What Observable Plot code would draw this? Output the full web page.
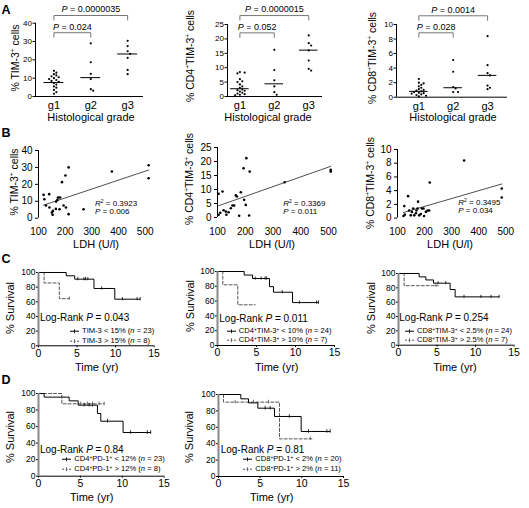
<!DOCTYPE html>
<html><head><meta charset="utf-8">
<script src="https://cdn.jsdelivr.net/npm/d3@7"></script>
<script src="https://cdn.jsdelivr.net/npm/@observablehq/plot@0.6"></script>
<style>
body{margin:0;background:#fff}
#fig{position:relative;width:529px;height:508px;overflow:hidden;font-family:"Liberation Sans",Arial,Helvetica,sans-serif;color:#000;background:#fff}
.lbl{position:absolute;white-space:nowrap;line-height:1}
.lbl sup{font-size:62%;line-height:0;vertical-align:0.55em}
.letter{font-weight:bold;font-size:12.5px}
</style></head>
<body><div id="fig"></div>
<script>
// ---------------- DATA ----------------
const grades = ["g1", "g2", "g3"];
// Panel A: % positive cells by histological grade
const aTim3 = [
  [14, 13, 12.2, 11.5, 11, 10.5, 10, 9.5, 9, 8.5, 8, 7.3, 6.5, 5.5, 4.8, 3.6, 2.4, 1.5],
  [29, 18.7, 12.4, 9.5, 4, 3.2],
  [30.4, 27.5, 24.7, 23.3, 21.1, 14.5, 12.2]
];
const aTim3Median = [7.6, 10.3, 23.2];
const aCd4 = [
  [8.5, 8.3, 8.0, 6.0, 5.3, 5.0, 4.2, 3.5, 3.0, 2.4, 2.2, 2.0, 1.7, 1.3, 1.0, 0.8, 0.6, 0.4],
  [16.2, 9.2, 5.6, 3.5, 1.5, 0.6],
  [21.2, 18.5, 17.7, 16, 12.5, 9.6, 9.0]
];
const aCd4Median = [2.7, 4.4, 16.1];
const aCd8 = [
  [2.5, 2.0, 1.9, 1.7, 1.5, 1.3, 1.1, 1.0, 0.9, 0.8, 0.7, 0.6, 0.55, 0.5, 0.4, 0.3, 0.2, 0.1],
  [5.1, 3.5, 1.4, 1.2, 0.7, 0.7],
  [8.4, 4.4, 3.3, 3.0, 1.6, 1.3, 1.1]
];
const aCd8Median = [0.8, 1.3, 3.0];
const aTim3Brackets = [{a: 1, b: 2, y: 34.8, p: "0.024"}, {a: 1, b: 3, y: 44.2, p: "0.0000035"}];
const aCd4Brackets = [{a: 1, b: 2, y: 22.1, p: "0.052"}, {a: 1, b: 3, y: 28.1, p: "0.0000015"}];
const aCd8Brackets = [{a: 1, b: 2, y: 8.86, p: "0.028"}, {a: 1, b: 3, y: 11.2, p: "0.0014"}];

// Panel B: LDH vs % positive cells
const ldhTicks = [100, 200, 300, 400, 500];
const bLdh1 = [119,122,128,140,141,150,153,154,165,166,171,173,179,181,188,194,201,203,213,213,269,375,513,513];
const bTim3 = [13.8,11.2,7.5,14.2,6.3,3.3,2,4.3,5.5,9.8,10.8,12.2,5.3,12.2,21.3,7.5,25.2,6.3,30,2.4,5.3,27.6,31.3,23.6];
const bLdh2 = [104,104,110,118,122,130,132,140,148,154,160,166,170,178,184,194,196,202,204,214,216,342,508,508];
const bCd4 = [8.5,1,1.7,9.3,2.6,2.1,1,1.9,3.3,4.3,4.3,7.9,7.5,0.6,9.0,17.6,6.3,4.5,21.2,0.7,16.4,12.6,17,16.4];
const bLdh3 = [122,125,127,139,143,149,153,158,162,168,170,174,176,180,186,190,196,198,205,211,217,219,346,485,485];
const bCd8 = [0.3,1.75,0.5,3.2,1.1,0.4,0.9,1.4,0.4,0.7,1.1,1.4,2.4,0.4,0.6,1.4,1.4,0.3,0.9,1.1,1.1,5.2,8.4,4.3,3.0];
const bStats = [["0.3923", "0.006"], ["0.3369", "0.011"], ["0.3495", "0.034"]];

// Panels C/D: Kaplan-Meier curves (step times, survival %, censor times)
const survTicks = [0, 20, 40, 60, 80, 100];
const timeTicks = [0, 5, 10, 15];
const c1LowT = [0, 3.6, 4.7, 7.2, 9.9, 13.2], c1LowS = [100, 95.5, 90.9, 78.2, 63.6, 63.6], c1LowC = [5.1, 5.9, 6.1, 6.4, 8.2, 10.9, 12.8, 13.2];
const c1HighT = [0, 0.73, 2.7, 4.0], c1HighS = [100, 85.7, 64.3, 64.3], c1HighC = [4.0];
const c2LowT = [0, 3.42, 4.49, 6.67, 7.18, 9.62, 12.95], c2LowS = [100, 95.2, 90.5, 79.5, 72, 58, 58], c2LowC = [4.83, 5.6, 6.1, 6.3, 8.3, 10.5, 12.7, 12.95];
const c2HighT = [0, 0.68, 2.6, 4.83], c2HighS = [100, 82, 55, 55], c2HighC = [];
const c3LowT = [0, 2.68, 3.55, 4.54, 6.7, 7.35, 13.06], c3LowS = [100, 95.3, 91, 86.5, 77.7, 67.4, 67.4], c3LowC = [5.14, 6.14, 8.5, 10.7, 12, 13.06];
const c3HighT = [0, 0.73, 5.14], c3HighS = [100, 83, 83], c3HighC = [4.84];
const d1LowT = [0, 0.68, 3.66, 4.74, 7.04, 7.44, 10.1, 13.4], d1LowS = [100, 95.6, 91.1, 85.9, 75.8, 66.5, 52.8, 52.8], d1LowC = [5.45, 6.05, 6.45, 8.24, 11.0, 13.0, 13.4];
const d1HighT = [0, 2.79, 7.84], d1HighS = [100, 87.5, 87.5], d1HighC = [5.05, 5.85, 6.45, 7.24, 7.84];
const d2LowT = [0, 2.68, 3.6, 4.72, 6.72, 9.92, 13.4], d2LowS = [100, 94.7, 89.8, 83.3, 73.2, 54.9, 54.9], d2LowC = [5.6, 6.2, 8.5, 10.8, 13, 13.4];
const d2HighT = [0, 0.6, 7.32, 11.2], d2HighS = [100, 90.7, 45.9, 45.9], d2HighC = [2, 4.2, 6.0, 11];
const logRank = ["0.043", "0.011", "0.254", "0.84", "0.81"];
const legendLow = ["TIM-3 &lt; 15% (<i>n</i> = 23)", "CD4<sup>+</sup>TIM-3<sup>+</sup> &lt; 10% (<i>n</i> = 24)", "CD8<sup>+</sup>TIM-3<sup>+</sup> &lt; 2.5% (<i>n</i> = 24)", "CD4<sup>+</sup>PD-1<sup>+</sup> &lt; 12% (<i>n</i> = 23)", "CD8<sup>+</sup>PD-1<sup>+</sup> &lt; 2% (<i>n</i> = 20)"];
const legendHigh = ["TIM-3 &gt; 15% (<i>n</i> = 8)", "CD4<sup>+</sup>TIM-3<sup>+</sup> &gt; 10% (<i>n</i> = 7)", "CD8<sup>+</sup>TIM-3<sup>+</sup> &gt; 2.5% (<i>n</i> = 7)", "CD4<sup>+</sup>PD-1<sup>+</sup> &gt; 12% (<i>n</i> = 8)", "CD8<sup>+</sup>PD-1<sup>+</sup> &gt; 2% (<i>n</i> = 11)"];

// ---------------- DRAWING ----------------
const FONT = '"Liberation Sans", Arial, Helvetica, sans-serif';
const fig = document.getElementById("fig");

function dims(fr, m) {
  return {
    width: fr.x1 - fr.x0 + m[3] + m[1],
    height: fr.yb - fr.yt + m[0] + m[2],
    marginTop: m[0], marginRight: m[1], marginBottom: m[2], marginLeft: m[3],
    left: fr.x0 - m[3], top: fr.yt - m[0]
  };
}
function mount(opts, d) {
  const {left, top, ...size} = d;
  const svg = Plot.plot({...size, ...opts, style: {fontFamily: FONT, fontSize: "9px", overflow: "visible", background: "transparent", color: "#000"}});
  svg.style.position = "absolute";
  svg.style.left = left + "px";
  svg.style.top = top + "px";
  fig.appendChild(svg);
  return svg;
}
function italicize(svg) {
  svg.querySelectorAll("text").forEach(t => {
    if (t.children.length) return;
    const m = (t.textContent || "").match(/^(P)( = .*)$/);
    if (!m) return;
    t.textContent = "";
    const a = document.createElementNS("http://www.w3.org/2000/svg", "tspan");
    a.setAttribute("font-style", "italic");
    a.textContent = m[1];
    t.appendChild(a);
    t.appendChild(document.createTextNode(m[2]));
  });
}

function dotPanel(fr, xDomain, yDomain, yTicks, groups, medians, brackets) {
  const d = dims(fr, [fr.yt, 4, 20, 22]);
  const pxY = (fr.yb - fr.yt) / (yDomain[1] - yDomain[0]);
  const pxX = (fr.x1 - fr.x0) / (xDomain[1] - xDomain[0]);
  const pts = [];
  groups.forEach((vals, gi) => {
    const placed = [];
    vals.slice().sort((a, b) => b - a).forEach(v => {
      const py = v * pxY;
      let off = 0;
      for (let k = 0; k < 60; k++) {
        const c = k === 0 ? 0 : (k % 2 ? 1 : -1) * Math.ceil(k / 2) * 2.4;
        if (placed.every(p => Math.hypot(p.o - c, p.y - py) >= 2.6)) { off = c; break; }
      }
      placed.push({o: off, y: py});
      pts.push({x: gi + 1 + off / pxX, y: v});
    });
  });
  const meds = medians.map((v, i) => ({g: i + 1, v}));
  const leg = 4.5 / pxY;
  const brLines = brackets.flatMap((b, i) => [
    {id: i, x: b.a, y: b.y - leg}, {id: i, x: b.a, y: b.y}, {id: i, x: b.b, y: b.y}, {id: i, x: b.b, y: b.y - leg}]);
  const svg = mount({
    x: {domain: xDomain}, y: {domain: yDomain},
    marks: [
      Plot.ruleX([xDomain[0]], {y1: yDomain[0], y2: yDomain[1], strokeWidth: 1}),
      Plot.ruleY([yDomain[0]], {x1: xDomain[0], x2: xDomain[1], strokeWidth: 1}),
      Plot.axisY({ticks: yTicks, tickSize: 2.5, tickPadding: 1, fontSize: 8, label: null}),
      Plot.axisX({ticks: [1, 2, 3], tickFormat: i => grades[i - 1], tickSize: 0, tickPadding: 4.5, fontSize: 11, label: null}),
      Plot.dot(pts, {x: "x", y: "y", r: 1.1, fill: "#000"}),
      Plot.ruleY(meds, {y: "v", x1: q => q.g - 0.27, x2: q => q.g + 0.27, strokeWidth: 1}),
      Plot.line(brLines, {x: "x", y: "y", z: "id", stroke: "#777", strokeWidth: 1}),
      Plot.text(brackets, {x: q => (q.a + q.b) / 2, y: "y", dy: -6, text: q => "P = " + q.p, fontSize: 9})
    ]
  }, d);
  italicize(svg);
}

function scatterPanel(fr, yDomain, yTicks, xs, ys) {
  const pts = xs.map((x, i) => ({x, y: ys[i]}));
  mount({
    x: {domain: [100, 500]}, y: {domain: yDomain},
    marks: [
      Plot.ruleX([100], {y1: yDomain[0], y2: yDomain[1], strokeWidth: 1}),
      Plot.axisY({ticks: yTicks, tickSize: 3, tickPadding: 3, fontSize: 10, label: null}),
      Plot.axisX({ticks: ldhTicks, tickSize: 0, tickPadding: 10, fontSize: 10, label: null}),
      Plot.linearRegressionY(pts, {x: "x", y: "y", ci: 0, stroke: "#222", strokeWidth: 0.8}),
      Plot.dot(pts, {x: "x", y: "y", r: 1.3, fill: "#000"})
    ]
  }, dims(fr, [6, 10, 32, 30]));
}

function survAt(steps, t) {
  let s = 100;
  for (const p of steps) if (p.t <= t) s = p.s;
  return s;
}
function kmPanel(fr, lowT, lowS, lowC, highT, highS, highC) {
  const low = lowT.map((t, i) => ({t, s: lowS[i]}));
  const high = highT.map((t, i) => ({t, s: highS[i]}));
  const cl = lowC.map(t => ({t, s: survAt(low, t)}));
  const ch = highC.map(t => ({t, s: survAt(high, t)}));
  mount({
    x: {domain: [0, 15]}, y: {domain: [0, 100]},
    marks: [
      Plot.axisY({ticks: survTicks, tickSize: 2, tickPadding: 1, fontSize: 8.5, label: null}),
      Plot.axisX({ticks: timeTicks, tickSize: 2, tickPadding: 1.5, fontSize: 10.5, label: null}),
      Plot.ruleY([0], {x1: 0, x2: 15, strokeWidth: 1}),
      Plot.line(high, {x: "t", y: "s", curve: "step-after", stroke: "#555", strokeDasharray: "3,2", strokeWidth: 1}),
      Plot.line(low, {x: "t", y: "s", curve: "step-after", stroke: "#000", strokeWidth: 1}),
      Plot.ruleX(cl, {x: "t", y1: q => q.s - 2.2, y2: q => q.s + 2.2, stroke: "#000", strokeWidth: 0.8}),
      Plot.ruleX(ch, {x: "t", y1: q => q.s - 2.2, y2: q => q.s + 2.2, stroke: "#555", strokeWidth: 0.8}),
      Plot.ruleX([0], {y1: 0, y2: 100, stroke: "#888", strokeWidth: 2})
    ]
  }, dims(fr, [6, 8, 20, 22]));
}

// ---------- HTML text ----------
function label(html, x, y, size, mode) {
  const el = document.createElement("div");
  el.className = "lbl";
  el.innerHTML = html;
  el.style.left = x + "px";
  el.style.top = y + "px";
  el.style.fontSize = size + "px";
  el.style.transform = mode === "rot" ? "translate(-50%,-50%) rotate(-90deg)"
    : mode === "left" ? "translate(0,-50%)" : "translate(-50%,-50%)";
  fig.appendChild(el);
  return el;
}
function legendRow(x, y, dashed, html) {
  const col = dashed ? "#555" : "#000";
  const sym = `<svg width="9" height="6" style="vertical-align:middle;margin-right:3px;overflow:visible"><line x1="0" x2="9" y1="3" y2="3" stroke="${col}" stroke-width="1" ${dashed ? 'stroke-dasharray="2,1.5"' : ""}/><line x1="4.5" x2="4.5" y1="1" y2="5" stroke="${col}" stroke-width="0.8"/></svg>`;
  label(sym + html, x, y, 7.6, "left");
}

// ---------------- PANELS ----------------
// A
dotPanel({x0: 35, x1: 143, yt: 22.7, yb: 96}, [0.5, 3.43], [0, 40], [0, 10, 20, 30, 40], aTim3, aTim3Median, aTim3Brackets);
dotPanel({x0: 226.7, x1: 321.7, yt: 24, yb: 96}, [0.64, 3.4], [0, 25], [0, 5, 10, 15, 20, 25], aCd4, aCd4Median, aCd4Brackets);
dotPanel({x0: 395.7, x1: 506.7, yt: 24, yb: 96.7}, [0.35, 3.58], [0, 10], [0, 2, 4, 6, 8, 10], aCd8, aCd8Median, aCd8Brackets);
// B
scatterPanel({x0: 38.3, x1: 145, yt: 150.3, yb: 218}, [0, 40], [0, 10, 20, 30, 40], bLdh1, bTim3);
scatterPanel({x0: 216.7, x1: 327.7, yt: 147.3, yb: 217.3}, [0, 25], [0, 5, 10, 15, 20, 25], bLdh2, bCd4);
scatterPanel({x0: 396.7, x1: 505, yt: 148.7, yb: 217.3}, [0, 10], [0, 2, 4, 6, 8, 10], bLdh3, bCd8);
// C
kmPanel({x0: 37.7, x1: 153.3, yt: 271.7, yb: 345}, c1LowT, c1LowS, c1LowC, c1HighT, c1HighS, c1HighC);
kmPanel({x0: 217.3, x1: 334.3, yt: 271, yb: 345}, c2LowT, c2LowS, c2LowC, c2HighT, c2HighS, c2HighC);
kmPanel({x0: 397.7, x1: 513.3, yt: 273.3, yb: 345}, c3LowT, c3LowS, c3LowC, c3HighT, c3HighS, c3HighC);
// D
kmPanel({x0: 37.7, x1: 163.3, yt: 393.3, yb: 476}, d1LowT, d1LowS, d1LowC, d1HighT, d1HighS, d1HighC);
kmPanel({x0: 218.3, x1: 343.3, yt: 394, yb: 476}, d2LowT, d2LowS, d2LowC, d2HighT, d2HighS, d2HighC);

// Panel letters
[["A", 10], ["B", 133], ["C", 258.5], ["D", 380]].forEach(([t, y]) => {
  label(t, 1.5, y, 12.5, "left").classList.add("letter");
});
// Axis titles
const yl = ["% TIM-3<sup>+</sup> cells", "% CD4<sup>+</sup>TIM-3<sup>+</sup> cells", "% CD8<sup>+</sup>TIM-3<sup>+</sup> cells"];
[[15, 58], [190, 56], [371.7, 58]].forEach(([x, y], i) => label(yl[i], x, y, 10.5, "rot"));
[[14, 182], [189, 179], [370, 183]].forEach(([x, y], i) => label(yl[i], x, y, 10.5, "rot"));
[[10, 307.5], [190, 306], [371, 308], [10, 437], [189.3, 437]].forEach(([x, y]) => label("% Survival", x, y, 11, "rot"));
[[91, 117], [268, 117], [453, 117]].forEach(([x, y]) => label("Histological grade", x, y, 11));
[[96, 244], [272, 244], [450, 244]].forEach(([x, y]) => label("LDH (U/l)", x, y, 11));
[[96.7, 366.7], [276.7, 366.7], [455, 366.7], [91.7, 496.7], [271.7, 496.7]].forEach(([x, y]) => label("Time (yr)", x, y, 11));
// B stats
[[95, 204], [283.3, 204], [458.3, 203]].forEach(([x, y], i) => {
  label(`<i>R</i><sup>2</sup> = ${bStats[i][0]}`, x, y, 8, "left");
  label(`<i>P</i> = ${bStats[i][1]}`, x, y + 7.7, 8, "left");
});
// Log-rank + legends
const lrPos = [[40, 317.7], [219.3, 319], [399.3, 318.3], [40, 450], [220.7, 450]];
const lgPos = [[70, 331, 341], [226.7, 331, 340], [405, 331, 340], [62.3, 459.3, 469], [243.3, 459.3, 469.3]];
lrPos.forEach(([x, y], i) => label(`Log-Rank <i>P</i> = ${logRank[i]}`, x, y, 10));
lgPos.forEach(([x, y1, y2], i) => { legendRow(x, y1, false, legendLow[i]); legendRow(x, y2, true, legendHigh[i]); });
// fix: log-rank labels are left-anchored
fig.querySelectorAll(".lbl").forEach(el => {
  if (el.textContent.startsWith("Log-Rank")) el.style.transform = "translate(0,-50%)";
});
</script>
</body></html>
